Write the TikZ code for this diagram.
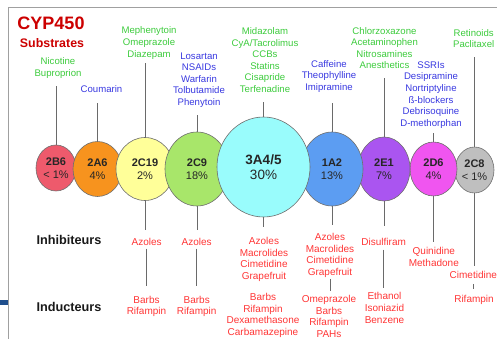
\documentclass[tikz,border=0pt]{standalone}
\usepackage{fontspec}
\setmainfont{Liberation Sans}
\usetikzlibrary{shapes.geometric}
\definecolor{sgreen}{HTML}{3CCB3C}
\definecolor{sblue}{HTML}{3838E0}
\definecolor{ired}{HTML}{FF3535}
\definecolor{tred}{HTML}{CC0000}
\definecolor{cline}{HTML}{6E6E6E}
\definecolor{lgray}{HTML}{6A6A6A}
\definecolor{fgray}{HTML}{A0A0A0}
\definecolor{navybar}{HTML}{1F4E8C}
\definecolor{f2B6}{HTML}{EE5A6C}
\definecolor{f2A6}{HTML}{F7931E}
\definecolor{f2C19}{HTML}{FFFF99}
\definecolor{f2C9}{HTML}{A8E66A}
\definecolor{f3A4}{HTML}{99FCFC}
\definecolor{f1A2}{HTML}{5C9DF2}
\definecolor{f2E1}{HTML}{AA55F0}
\definecolor{f2D6}{HTML}{F055F0}
\definecolor{f2C8}{HTML}{BFBFBF}
\begin{document}
\begin{tikzpicture}[x=1pt,y=-1pt,
  cyp/.style={ellipse,draw=cline,line width=0.6pt,inner sep=0pt,align=center,
    text=black!85,font=\fontsize{11}{13.5}\selectfont},
  sg/.style={text=sgreen,align=center,inner sep=0pt,font=\fontsize{9.6}{11.6}\selectfont},
  sb/.style={sg,text=sblue},
  rd/.style={text=ired,align=center,inner sep=0pt,font=\fontsize{10}{11.6}\selectfont},
  rowlab/.style={inner sep=0pt,text=black!90,font=\fontsize{12.7}{14}\selectfont\bfseries},
  conn/.style={draw=lgray,line width=0.9pt},
  ]
\useasboundingbox (0,0) rectangle (497,339);
% frame
\draw[fgray,line width=1pt] (8.5,339) -- (8.5,8) -- (497,8);
\fill[navybar] (0,300) rectangle (7.5,304.5);
% title
\node[inner sep=0pt,text=tred,font=\fontsize{18}{20}\selectfont\bfseries] (title) at (51,23) {CYP450};
\node[inner sep=0pt,text=tred,font=\fontsize{12.4}{14}\selectfont\bfseries] (subtitle) at (52,43) {Substrates};
% circles (drawing order matters)
\node[cyp,fill=f2C8,minimum width=39pt,minimum height=46pt] (c2C8) at (474.5,170) {\textbf{2C8}\\< 1\%};
\node[cyp,fill=f2D6,minimum width=47pt,minimum height=54pt] (c2D6) at (433.5,169) {\textbf{2D6}\\4\%};
\node[cyp,fill=f2E1,minimum width=52pt,minimum height=64pt] (c2E1) at (384,169) {\textbf{2E1}\\7\%};
\node[cyp,fill=f1A2,minimum width=62pt,minimum height=74pt] (c1A2) at (332,169) {\textbf{1A2}\\13\%};
\node[cyp,fill=f2B6,minimum width=40pt,minimum height=46pt] (c2B6) at (56,168) {\textbf{2B6}\\< 1\%};
\node[cyp,fill=f2A6,minimum width=49pt,minimum height=55pt] (c2A6) at (97.5,169) {\textbf{2A6}\\4\%};
\node[cyp,fill=f2C19,minimum width=58pt,minimum height=63pt] (c2C19) at (145,169) {\textbf{2C19}\\2\%};
\node[cyp,fill=f2C9,minimum width=64pt,minimum height=74pt] (c2C9) at (197,169) {\textbf{2C9}\\18\%};
\node[cyp,fill=f3A4,minimum width=93pt,minimum height=100pt,font=\fontsize{13.5}{14.7}\selectfont] (c3A4) at (263.5,167) {\textbf{3A4/5}\\30\%};
% substrates
\node[sg] (s2B6) at (58,68) {Nicotine\\Buproprion};
\node[sb] (s2A6) at (101.5,89.5) {Coumarin};
\node[sg] (s2C19) at (149,43) {Mephenytoin\\Omeprazole\\Diazepam};
\node[sb] (s2C9) at (199,80) {Losartan\\NSAIDs\\Warfarin\\Tolbutamide\\Phenytoin};
\node[sg] (s3A4) at (265,60) {Midazolam\\CyA/Tacrolimus\\CCBs\\Statins\\Cisapride\\Terfenadine};
\node[sb] (s1A2) at (329,76.5) {Caffeine\\Theophylline\\Imipramine};
\node[sg] (s2E1) at (384.5,48) {Chlorzoxazone\\Acetaminophen\\Nitrosamines\\Anesthetics};
\node[sb] (s2D6) at (431,95) {SSRIs\\Desipramine\\Nortriptyline\\ß-blockers\\Debrisoquine\\D-methorphan};
\node[sg] (s2C8) at (473.7,38.5) {Retinoids\\Paclitaxel};
% row labels
\node[rowlab] (linh) at (69,240) {Inhibiteurs};
\node[rowlab] (lind) at (69,306.7) {Inducteurs};
% inhibitors
\node[rd] (i2C19) at (146.7,241.7) {Azoles};
\node[rd] (i2C9) at (196.7,241.7) {Azoles};
\node[rd] (i3A4) at (264,259.5) {Azoles\\Macrolides\\Cimetidine\\Grapefruit};
\node[rd] (i1A2) at (330,255.5) {Azoles\\Macrolides\\Cimetidine\\Grapefruit};
\node[rd] (i2E1) at (383.7,241.7) {Disulfiram};
\node[rd] (i2D6) at (433.8,257) {Quinidine\\Methadone};
\node[rd] (i2C8) at (473.3,275) {Cimetidine};
% inducers
\node[rd] (d2C19) at (146.5,306.5) {Barbs\\Rifampin};
\node[rd] (d2C9) at (196.7,306.5) {Barbs\\Rifampin};
\node[rd] (d3A4) at (263,315.5) {Barbs\\Rifampin\\Dexamethasone\\Carbamazepine};
\node[rd] (d1A2) at (329,316.5) {Omeprazole\\Barbs\\Rifampin\\PAHs};
\node[rd] (d2E1) at (384.5,308) {Ethanol\\Isoniazid\\Benzene};
\node[rd] (d2C8) at (474,300) {Rifampin};
% upper connectors
\draw[conn,shorten >=7.6pt] (c2B6.north) -- (c2B6.north |- s2B6.south);
\draw[conn,shorten >=10pt] (c2A6.north) -- (c2A6.north |- s2A6.south);
\draw[conn,shorten >=3.6pt] (c2C19.north) -- (c2C19.north |- s2C19.south);
\draw[conn,shorten >=6.9pt] (c2C9.north) -- (c2C9.north |- s2C9.south);
\draw[conn,shorten >=9.3pt] (c3A4.north) -- (c3A4.north |- s3A4.south);
\draw[conn,shorten >=10pt] (c1A2.north) -- (c1A2.north |- s1A2.south);
\draw[conn,shorten >=8.6pt] (c2E1.north) -- (c2E1.north |- s2E1.south);
\draw[conn,shorten >=4.3pt] (c2D6.north) -- (c2D6.north |- s2D6.south);
\draw[conn,shorten >=8.9pt] (c2C8.north) -- (c2C8.north |- s2C8.south);
% lower connectors
\draw[conn,shorten >=8pt] (c2C19.south) -- (c2C19.south |- i2C19.north);
\draw[conn,shorten <=3pt,shorten >=9.4pt] (i2C19.south) -- (i2C19.south |- d2C19.north);
\draw[conn,shorten >=8pt] (c2C9.south) -- (c2C9.south |- i2C9.north);
\draw[conn,shorten <=3pt,shorten >=9.4pt] (i2C9.south) -- (i2C9.south |- d2C9.north);
\draw[conn,shorten >=10pt] (c3A4.south) -- (c3A4.south |- i3A4.north);
\draw[conn,shorten >=8pt] (c1A2.south) -- (c1A2.south |- i1A2.north);
\draw[conn,shorten <=1pt,shorten >=4.5pt] (i1A2.south) -- (i1A2.south |- d1A2.north);
\draw[conn,shorten >=11.4pt] (c2E1.south) -- (c2E1.south |- i2E1.north);
\draw[conn,shorten <=4pt,shorten >=5pt] (i2E1.south) -- (i2E1.south |- d2E1.north);
\draw[conn,shorten >=5.4pt] (c2D6.south) -- (c2D6.south |- i2D6.north);
\draw[conn,shorten >=4.7pt] (c2C8.south) -- (c2C8.south |- i2C8.north);
\draw[conn,shorten <=5pt,shorten >=6.4pt] (i2C8.south) -- (i2C8.south |- d2C8.north);
\end{tikzpicture}
\end{document}
